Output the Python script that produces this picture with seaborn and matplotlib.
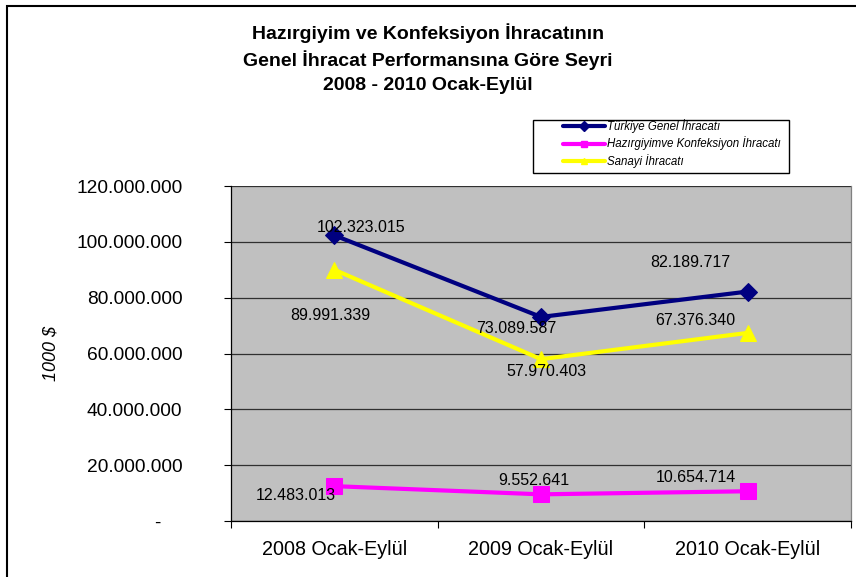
import numpy as np
import pandas as pd
import matplotlib
matplotlib.use('Agg')
import matplotlib.pyplot as plt
import seaborn as sns
from matplotlib.lines import Line2D
from matplotlib.patches import Rectangle
from matplotlib.ticker import FuncFormatter, MultipleLocator

periods = ['2008 Ocak-Eylül', '2009 Ocak-Eylül', '2010 Ocak-Eylül']
genel = [102323015, 73089587, 82189717]
hazirgiyim = [12483013, 9552641, 10654714]
sanayi = [89991339, 57970403, 67376340]

series_names = ['Türkiye Genel İhracatı', 'Hazırgiyimve Konfeksiyon İhracatı', 'Sanayi İhracatı']

sns.set_style('white')
plt.rcParams['font.family'] = ['Liberation Sans', 'DejaVu Sans']
for k in ['text.color', 'axes.labelcolor', 'xtick.color', 'ytick.color']:
    plt.rcParams[k] = 'black'

W, H = 856, 577
fig = plt.figure(figsize=(W / 100, H / 100), dpi=100)
ax = fig.add_axes([231 / W, 1 - 521 / H, 620 / W, 335 / H])
ax.set_facecolor('#C0C0C0')

# series: values, colour, marker, marker size, label offsets (pixels)
styles = [
    (genel, '#000080', 'D', 9, [(27, 8), (-25, -12), (-57, 29)]),
    (hazirgiyim, '#FF00FF', 's', 11, [(-39, -9), (-7, 14), (-52, 14)]),
    (sanayi, '#FFFF00', '^', 12, [(-4, -46), (5, -12), (-52, 12)]),
]

for (vals, col, mk, ms, offs), name in zip(styles, series_names):
    sns.lineplot(x=periods, y=vals, color=col, marker=mk, markersize=ms,
                 markeredgecolor=col, linewidth=3, ax=ax, legend=False, zorder=3)
    for i, v in enumerate(vals):
        ax.annotate(f'{v:,}'.replace(',', '.'), (i, v), xytext=offs[i],
                    textcoords='offset pixels', ha='center', va='center',
                    fontsize=11.5, color='black', zorder=4)

ax.set_xlim(-0.5, 2.5)
ax.set_ylim(0, 120000000)
ax.yaxis.set_major_locator(MultipleLocator(20000000))
ax.yaxis.set_major_formatter(FuncFormatter(
    lambda v, p: '-    ' if v == 0 else f'{int(v):,}'.replace(',', '.')))
ax.grid(axis='y', color='#303030', linewidth=0.9)
ax.set_axisbelow(True)
ax.set_xticks([0, 1, 2])
ax.set_xticklabels(periods)
ax.set_xticks([-0.5, 0.5, 1.5, 2.5], minor=True)
ax.tick_params(axis='x', which='major', length=0, labelsize=14.2, pad=14)
ax.tick_params(axis='x', which='minor', length=5, width=0.8, direction='out', bottom=True)
ax.tick_params(axis='y', length=5, width=0.8, direction='out', left=True, labelsize=13.8, pad=30)
ax.spines['top'].set_visible(False)
ax.spines['right'].set_color('#808080')
ax.spines['right'].set_linewidth(0.9)
for s in ['left', 'bottom']:
    ax.spines[s].set_color('black')
    ax.spines[s].set_linewidth(0.9)
ax.set_xlabel('')
ax.set_ylabel('1000 $', fontsize=13, style='italic', labelpad=12)

# legend box drawn by hand to match the Excel layout
fig.add_artist(Rectangle((533 / W, 1 - 173 / H), 256 / W, 53 / H, transform=fig.transFigure,
                         fill=True, facecolor='white', edgecolor='black', linewidth=1))
for row, ((vals, col, mk, ms, offs), name) in enumerate(zip(styles, series_names)):
    yy = 1 - (126 + row * 17.5) / H
    fig.add_artist(Line2D([563 / W, 605 / W], [yy, yy], transform=fig.transFigure,
                          color=col, linewidth=3))
    fig.add_artist(Line2D([584 / W], [yy], transform=fig.transFigure, color=col,
                          marker=mk, markersize=5, markeredgecolor=col))
    fig.text(607 / W, yy, name, ha='left', va='center', fontsize=8.3, style='italic')

fig.text(0.5, 1 - 33 / H, 'Hazırgiyim ve Konfeksiyon İhracatının', ha='center', va='center',
         fontsize=14, fontweight='bold')
fig.text(0.5, 1 - 60 / H, 'Genel İhracat Performansına Göre Seyri', ha='center', va='center',
         fontsize=14, fontweight='bold')
fig.text(0.5, 1 - 86 / H, '2008 - 2010 Ocak-Eylül', ha='center', va='center',
         fontsize=14, fontweight='bold')

fig.add_artist(Rectangle((7 / W, -0.1), 1.0, 1 - 6 / H + 0.1, transform=fig.transFigure,
                         fill=False, edgecolor='black', linewidth=1.5))

fig.savefig('out.png', dpi=100)
